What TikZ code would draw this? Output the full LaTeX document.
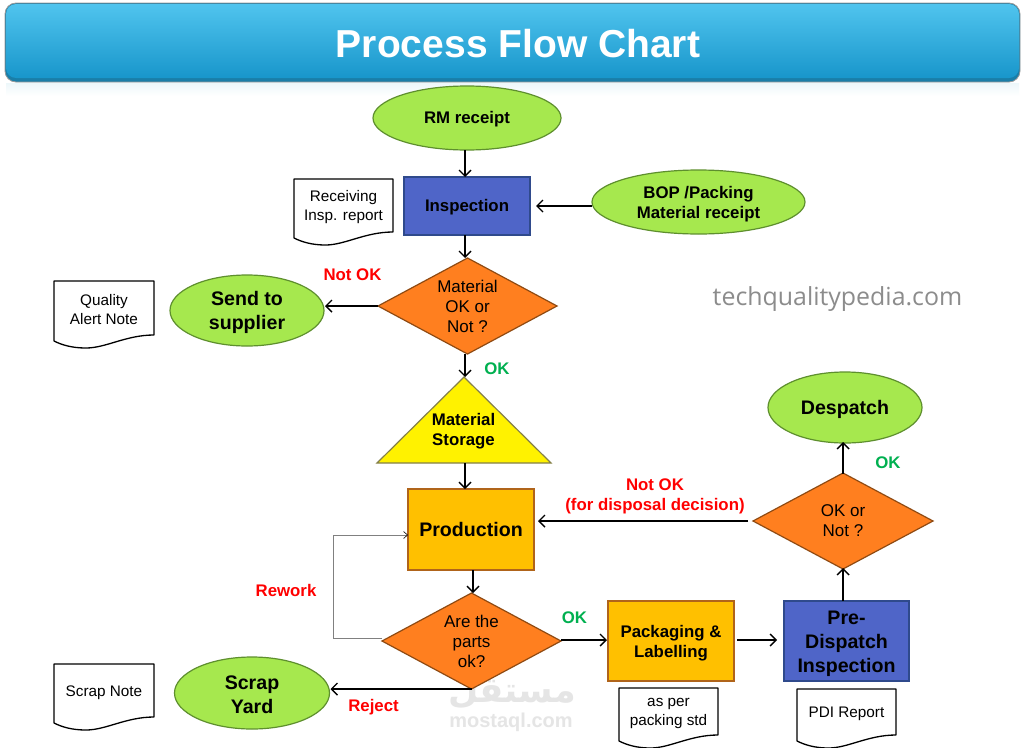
\documentclass[tikz,border=0pt]{standalone}
\usepackage{fontspec}
\setmainfont{Liberation Sans}
\newfontfamily\arabicfont[Script=Arabic]{DejaVu Sans}
\newfontfamily\wmfont{Open Sans}
\TeXXeTstate=1
\usetikzlibrary{shapes.geometric,arrows.meta,calc}
\definecolor{grn}{HTML}{A6E84E}
\definecolor{grnb}{HTML}{5E8F2E}
\definecolor{blu}{HTML}{4F65C8}
\definecolor{blub}{HTML}{2F4A8C}
\definecolor{org}{HTML}{FF7F1F}
\definecolor{orgb}{HTML}{8F4A12}
\definecolor{amb}{HTML}{FFC000}
\definecolor{ambb}{HTML}{B0641A}
\definecolor{okg}{HTML}{00B050}
\definecolor{bantop}{HTML}{50C4EE}
\definecolor{banmid}{HTML}{2CA5D5}
\definecolor{banbot}{HTML}{1896CB}
\definecolor{banedge}{HTML}{1A7EA8}
\definecolor{banglow}{HTML}{EDF7FA}
\newcommand{\dn}[1]{\rule{0pt}{\dimexpr 0.73em+#1pt\relax}}
\tikzset{
  every node/.style={inner sep=0pt,outer sep=0pt,align=center},
  term/.style={ellipse,draw=grnb,fill=grn,line width=1.2pt},
  proc/.style={draw=blub,fill=blu,line width=1.2pt},
  ambbox/.style={draw=ambb,fill=amb,line width=1.2pt},
  decide/.style={diamond,aspect=1.87,inner sep=-8pt,draw=orgb,fill=org,line width=1.2pt,font=\fontsize{17}{20}\selectfont},
  docshape/.style={draw=black,fill=white,line width=1.3pt,line join=round},
  arr/.style={draw=black,line width=1.6pt,-{Straight Barb[length=6pt,width=12pt,line width=1.4pt]}},
  thinarr/.style={draw=black!50,line width=0.7pt,-{Straight Barb[length=4pt,width=7pt,line width=0.6pt,color=black]}},
  boldtxt/.style={font=\bfseries\fontsize{16.8}{20}\selectfont},
  bigtxt/.style={font=\bfseries\fontsize{19.6}{24}\selectfont},
  redlab/.style={boldtxt,text=red},
  grnlab/.style={boldtxt,text=okg}
}
% name, left, top, right, bottom of flat edge, text
\newcommand{\docnote}[6]{%
  \draw[docshape] (#2,#3) -- (#4,#3) -- (#4,#5)
     .. controls ({#4-28},{#5}) and ({#4-48},{#5+13}) .. ({(#2+#4)/2-18},{#5+13})
     .. controls ({#2+18},{#5+13}) and ({#2+8},{#5+10}) .. (#2,{#5+6}) -- cycle;
  \node[font=\fontsize{15.3}{19}\selectfont] (#1) at ({(#2+#4)/2},{(#3+#5)/2+2}) {#6};
}
\begin{document}
\begin{tikzpicture}[x=1pt,y=-1pt]
\useasboundingbox (0,0) rectangle (1024,747);
\fill[white] (0,0) rectangle (1024,747);
% banner
\shade[top color=banglow,bottom color=white] (6,83) rectangle (1019,96);
\fill[rounded corners=11pt,banedge,draw=black!40,line width=0.8pt] (5,3) rectangle (1020,82);
\shade[rounded corners=10pt,top color=bantop,middle color=banmid,bottom color=banbot] (6,4) rectangle (1019,78);
\node[text=white,font=\bfseries\fontsize{39}{44}\selectfont] (title) at (518,44) {Process Flow Chart};
% watermarks
\node[text=black!45,font=\wmfont\fontsize{24.9}{28}\selectfont] (wm) at (837.5,299) {techqualitypedia.com};
\node[text=black!10,font=\arabicfont\bfseries\fontsize{35}{40}\selectfont] (wa) at (512,692) {\beginR مستقل\endR};
\node[text=black!10,font=\bfseries\fontsize{20}{24}\selectfont] (wb) at (511,722) {mostaql.com};
% anchors for straight lines
\coordinate (xa) at (465,0);
\coordinate (xb) at (473,0);
\coordinate (xc) at (843,0);
\coordinate (ya) at (0,206);
\coordinate (yb) at (0,306);
\coordinate (yc) at (0,640);
\coordinate (yd) at (0,521);
\coordinate (yf) at (0,638);
\coordinate (yg) at (0,535);
\coordinate (xr) at (333,0);
% nodes
\node[term,boldtxt,minimum width=188pt,minimum height=64pt] (rm) at (467,118) {\dn{2}RM receipt};
\node[proc,boldtxt,minimum width=126pt,minimum height=58pt] (insp) at (467,206) {\dn{2}Inspection};
\node[term,boldtxt,minimum width=213pt,minimum height=64pt] (bop) at (698.5,202) {\dn{4}BOP /Packing\\Material receipt};
\node[decide,minimum width=179pt,minimum height=96pt] (mat) at (467.5,306) {Material\\OK or\\Not ?};
\node[term,bigtxt,minimum width=154pt,minimum height=71pt] (send) at (247,310.5) {\dn{4}Send to\\supplier};
% triangle
\coordinate (tritop) at (464,377);
\coordinate (tribot) at (464,463);
\draw[draw=black!55!yellow,fill=yellow,line width=1.2pt,line join=miter] (tritop) -- (551,463) -- (377,463) -- cycle;
\node[boldtxt] (tritext) at (463.5,431.5) {Material\\Storage};
\node[ambbox,bigtxt,minimum width=126pt,minimum height=81pt] (prod) at (471,529.5) {Production};
\node[decide,minimum width=179pt,minimum height=96pt] (parts) at (471.5,641) {Are the\\parts\\ok?};
\node[ambbox,boldtxt,minimum width=126pt,minimum height=80pt] (pack) at (671,641) {\dn{4}Packaging \&\\Labelling};
\node[proc,bigtxt,minimum width=125pt,minimum height=80pt] (pre) at (846.5,641) {\dn{4}Pre-\\Dispatch\\Inspection};
\node[decide,minimum width=180pt,minimum height=96pt] (okn) at (843,521) {OK or\\Not ?};
\node[term,bigtxt,minimum width=154pt,minimum height=71pt] (desp) at (845,407.5) {\dn{4}Despatch};
\node[term,bigtxt,minimum width=155pt,minimum height=72pt] (scrap) at (252,693) {\dn{2}Scrap\\Yard};
% documents
\docnote{d1}{294}{179}{393}{232}{Receiving\\Insp. report}
\docnote{d2}{54}{281}{154}{335}{Quality\\Alert Note}
\docnote{d3}{54}{664}{154}{717}{Scrap Note}
\docnote{d4}{619}{688}{718}{735}{as per\\packing std}
\docnote{d5}{797}{689}{896}{735}{PDI Report}
% connectors
\draw[arr] (rm.south -| xa) -- (insp.north -| xa);
\draw[arr] (insp.south -| xa) -- (mat.north -| xa);
\draw[arr] (bop.west |- ya) -- ([xshift=6pt]insp.east |- ya);
\draw[arr] (mat.west |- yb) -- ([xshift=1pt]send.east |- yb);
\draw[arr] (mat.south -| xa) -- (tritop -| xa);
\draw[arr] (tribot -| xa) -- (prod.north -| xa);
\draw[arr] (prod.south -| xb) -- (parts.north -| xb);
\draw[arr] (parts.east |- yc) -- ([xshift=-1pt]pack.west |- yc);
\draw[arr] ([xshift=3pt]pack.east |- yc) -- ([xshift=-7pt]pre.west |- yc);
\draw[arr] (pre.north -| xc) -- ([yshift=1pt]okn.south -| xc);
\draw[arr] ([yshift=-1pt]okn.north -| xc) -- ([yshift=1pt]desp.south -| xc);
\draw[arr] ([xshift=-5pt]okn.west |- yd) -- ([xshift=4pt]prod.east |- yd);
\draw[arr] (parts.south) -- ([xshift=1pt]scrap.east |- parts.south);
\draw[thinarr] (parts.west |- yf) -- (xr |- yf) -- (xr |- yg) -- (prod.west |- yg);
% labels
\node[redlab] (l1) at (352.5,275) {Not OK};
\node[grnlab] (l2) at (497,369) {OK};
\node[redlab] (l3) at (655,496) {Not OK\\(for disposal decision)};
\node[grnlab] (l4) at (888,463) {OK};
\node[redlab] (l5) at (286,590) {Rework};
\node[grnlab] (l6) at (574.5,618) {OK};
\node[redlab] (l7) at (373.5,707) {Reject};
\end{tikzpicture}
\end{document}
